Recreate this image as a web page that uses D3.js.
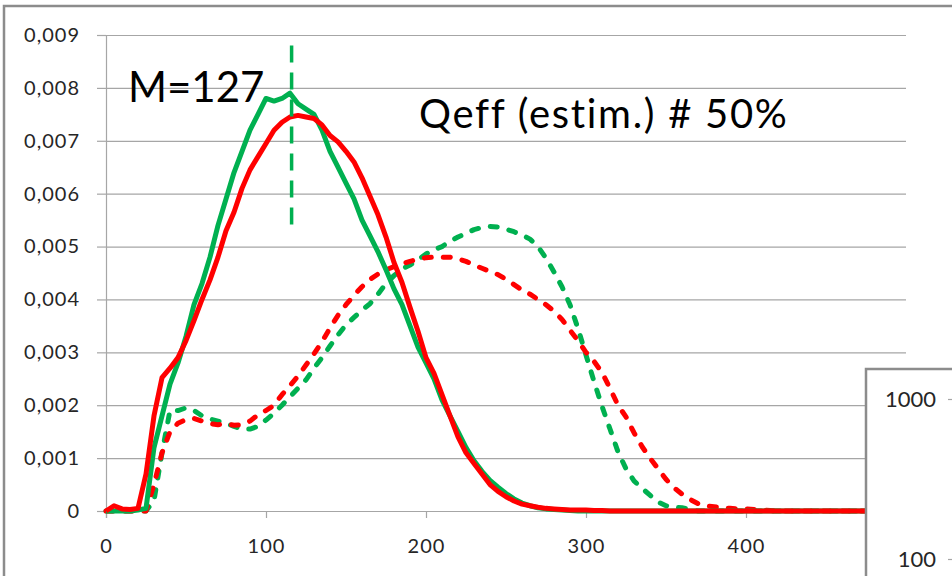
<!DOCTYPE html>
<html>
<head>
<meta charset="utf-8">
<script src="https://cdn.jsdelivr.net/npm/d3@7"></script>
<style>
  body { margin: 0; background: #fff; }
  svg { display: block; }
  text { font-family: Lato, "Open Sans", sans-serif; }
</style>
</head>
<body>
<svg id="chart" width="952" height="576"></svg>
<script>
// Channel positions (x) shared by every spectrum, step 5 from 0 to 500
const channels = d3.range(0, 501, 5);

// Solid spectra
const greenSolid = [
  0, 0, 0, 0, 0.00002, 0.00005, 0.0012, 0.0018, 0.0024, 0.0028,
  0.0033, 0.0039, 0.0043, 0.0048, 0.0054, 0.0059, 0.0064, 0.0068, 0.0072, 0.0075,
  0.0078, 0.00775, 0.0078, 0.0079, 0.0077, 0.0076, 0.0075, 0.0072, 0.0068, 0.0065,
  0.0062, 0.0059, 0.0055, 0.0052, 0.0049, 0.00456, 0.0042, 0.0039, 0.0035, 0.0031,
  0.0028, 0.0025, 0.0021, 0.0018, 0.0015, 0.0012, 0.00095, 0.00075, 0.00058, 0.00045,
  0.00033, 0.00023, 0.00015, 0.0001, 0.00006, 0.00004, 0.00003, 0.00002, 0.00001, 0,
  0, 0, 0, 0, 0, 0, 0, 0, 0, 0,
  0, 0, 0, 0, 0, 0, 0, 0, 0, 0,
  0, 0, 0, 0, 0, 0, 0, 0, 0, 0,
  0, 0, 0, 0, 0, 0, 0, 0, 0, 0,
  0
];
const redSolid = [
  0, 0.0001, 0.00004, 0.00003, 0.00005, 0.0007, 0.0018, 0.00252, 0.0027, 0.0029,
  0.00322, 0.0036, 0.004, 0.00437, 0.0048, 0.0053, 0.00565, 0.0061, 0.00645, 0.0067,
  0.00695, 0.0072, 0.00735, 0.00745, 0.00748, 0.00745, 0.00742, 0.0073, 0.0071, 0.00698,
  0.0068, 0.0066, 0.0063, 0.00595, 0.0056, 0.00518, 0.0047, 0.00432, 0.00385, 0.0034,
  0.0029, 0.0026, 0.0022, 0.0018, 0.0014, 0.0011, 0.0009, 0.0007, 0.0005, 0.00037,
  0.00027, 0.00019, 0.00013, 0.0001, 0.00007, 0.00005, 0.00004, 0.00003, 0.00002, 0.00002,
  0.00002, 0.00001, 0.00001, 0, 0, 0, 0, 0, 0, 0,
  0, 0, 0, 0, 0, 0, 0, 0, 0, 0,
  0, 0, 0, 0, 0, 0, 0, 0, 0, 0,
  0, 0, 0, 0, 0, 0, 0, 0, 0, 0,
  0
];

// Dashed spectra
const greenDashed = [
  0, 0, 0, 0, 0, 0, 0.0002, 0.0011, 0.0019, 0.0019,
  0.00195, 0.0019, 0.0018, 0.00174, 0.0017, 0.00166, 0.0016, 0.00155, 0.00155, 0.0016,
  0.00172, 0.00185, 0.002, 0.00216, 0.00232, 0.00248, 0.0027, 0.0029, 0.00312, 0.00333,
  0.00352, 0.00366, 0.0038, 0.00392, 0.0041, 0.0043, 0.00445, 0.00458, 0.00465, 0.00475,
  0.00486, 0.00494, 0.005, 0.0051, 0.00518, 0.00525, 0.00532, 0.00536, 0.00538, 0.00537,
  0.00533, 0.00528, 0.00522, 0.00514, 0.005, 0.00478, 0.00452, 0.00424, 0.0039, 0.00345,
  0.00295, 0.00245, 0.00198, 0.00155, 0.00112, 0.0008, 0.00057, 0.00043, 0.0003, 0.00017,
  0.0001, 0.00007, 0.00006, 0.00003, 0, 0, 0, 0, 0, 0,
  0, 0, 0, 0, 0, 0, 0, 0, 0, 0,
  0, 0, 0, 0, 0, 0, 0, 0, 0, 0,
  0
];
const redDashed = [
  0, 0, 0, 0, 0, 0, 0.0005, 0.0011, 0.0015, 0.00166,
  0.00173, 0.00175, 0.0017, 0.00165, 0.00163, 0.00165, 0.00162, 0.00163, 0.0017, 0.00182,
  0.0019, 0.002, 0.0022, 0.00237, 0.00255, 0.00276, 0.00297, 0.0032, 0.00346, 0.0037,
  0.0039, 0.00408, 0.00424, 0.00438, 0.00448, 0.00456, 0.00462, 0.00467, 0.00472, 0.00476,
  0.00479, 0.0048, 0.0048, 0.0048, 0.00477, 0.00472, 0.00465, 0.00459, 0.00453, 0.00447,
  0.00438, 0.00428, 0.00418, 0.0041, 0.004, 0.0039, 0.00378, 0.00362, 0.00342, 0.00322,
  0.003, 0.00283, 0.00262, 0.00232, 0.002, 0.00178, 0.00148, 0.00122, 0.001, 0.0008,
  0.0006, 0.00044, 0.00032, 0.00022, 0.00014, 0.0001, 0.00008, 0.00006, 0.00005, 0.00004,
  0.00004, 0.00003, 0.00002, 0.00001, 0, 0, 0, 0, 0, 0,
  0, 0, 0, 0, 0, 0, 0, 0, 0, 0,
  0
];

// Axis ticks (labels beyond 400 sit under the overlapping chart)
const xTickValues = [0, 100, 200, 300, 400];
const yTickValues = [0, 0.001, 0.002, 0.003, 0.004, 0.005, 0.006, 0.007, 0.008, 0.009];

// Annotations
const meanLabel = "M=127";
const meanMarker = { x: 116, yFrom: 0.0088, yTo: 0.0053 };
const qeffLabel = "Qeff (estim.) # 50%";

// Secondary (log) axis ticks of the overlapping chart
const insetTicks = [100, 1000];

const svg = d3.select("#chart");
const W = 952, H = 576;
const x = d3.scaleLinear().domain([0, 500]).range([106, 906]);
const y = d3.scaleLinear().domain([0, 0.009]).range([511, 35]);

const GREEN = "#00b050", RED = "#ff0000", GRID = "#a6a6a6", TXT = "#262626";

// outer chart frame
svg.append("path")
  .attr("d", `M4,${H} V6 H${W}`)
  .attr("fill", "none").attr("stroke", "#8c8c8c").attr("stroke-width", 2.5);

// horizontal gridlines
const grid = svg.append("g").attr("transform", `translate(${x(0)},0)`)
  .call(d3.axisLeft(y).tickValues(yTickValues).tickSize(-(x(500) - x(0))).tickFormat(""));
grid.select(".domain").remove();
grid.selectAll("line").attr("stroke", GRID).attr("stroke-width", 1.2);

// y axis with comma decimals
const locale = d3.formatLocale({ decimal: ",", thousands: ".", grouping: [3], currency: ["", ""] });
const fmt = locale.format(".3f");
const yAxis = svg.append("g").attr("transform", `translate(${x(0)},0)`)
  .call(d3.axisLeft(y).tickValues(yTickValues).tickSize(9).tickPadding(17)
    .tickFormat(d => d === 0 ? "0" : fmt(d)));
yAxis.selectAll("line, .domain").attr("stroke", GRID).attr("stroke-width", 1.2);
yAxis.selectAll("text").attr("fill", TXT).style("font-size", "20px").style("letter-spacing", "1px");

// x axis
const xAxis = svg.append("g").attr("transform", `translate(0,${y(0)})`)
  .call(d3.axisBottom(x).tickValues(xTickValues).tickSize(7).tickPadding(21).tickFormat(d3.format("d")));
xAxis.selectAll("line, .domain").attr("stroke", GRID).attr("stroke-width", 1.2);
xAxis.selectAll("text").attr("fill", TXT).style("font-size", "20px").style("letter-spacing", "1px");

// spectra
const line = d3.line().x((d, i) => x(channels[i])).y(d => y(d));
const series = [
  { values: greenDashed, color: GREEN, dash: "7,12" },
  { values: redDashed, color: RED, dash: "7,12" },
  { values: greenSolid, color: GREEN, dash: null },
  { values: redSolid, color: RED, dash: null }
];
svg.append("g").selectAll("path").data(series).join("path")
  .attr("d", d => line(d.values))
  .attr("fill", "none")
  .attr("stroke", d => d.color)
  .attr("stroke-width", 5)
  .attr("stroke-linejoin", "round")
  .attr("stroke-linecap", d => d.dash ? "round" : "butt")
  .attr("stroke-dasharray", d => d.dash);

// mean marker
svg.append("line")
  .attr("x1", x(meanMarker.x)).attr("x2", x(meanMarker.x))
  .attr("y1", y(meanMarker.yFrom)).attr("y2", y(meanMarker.yTo))
  .attr("stroke", GREEN).attr("stroke-width", 3.5).attr("stroke-dasharray", "17,10");

// annotations
svg.append("text").attr("x", 128).attr("y", 102).attr("fill", "#000")
  .style("font-size", "42px").text(meanLabel);
svg.append("text").attr("x", 419).attr("y", 128).attr("fill", "#000")
  .style("font-size", "40px").style("letter-spacing", "1.7px").text(qeffLabel);

// overlapping chart in the lower right corner
const inset = svg.append("g");
inset.append("rect").attr("x", 866).attr("y", 369).attr("width", 120).attr("height", 240)
  .attr("fill", "#fff").attr("stroke", "#8c8c8c").attr("stroke-width", 2.5);
const yInset = d3.scaleLog().domain([100, 1000]).range([559, 399]);
const insetAxis = inset.append("g").attr("transform", `translate(${W + 1},0)`)
  .call(d3.axisLeft(yInset).tickValues(insetTicks).tickSize(5).tickPadding(12).tickFormat(d3.format("d")));
insetAxis.select(".domain").remove();
insetAxis.selectAll("line").attr("stroke", GRID).attr("stroke-width", 1.2);
insetAxis.selectAll("text").attr("fill", TXT).style("font-size", "22px");
</script>
</body>
</html>
